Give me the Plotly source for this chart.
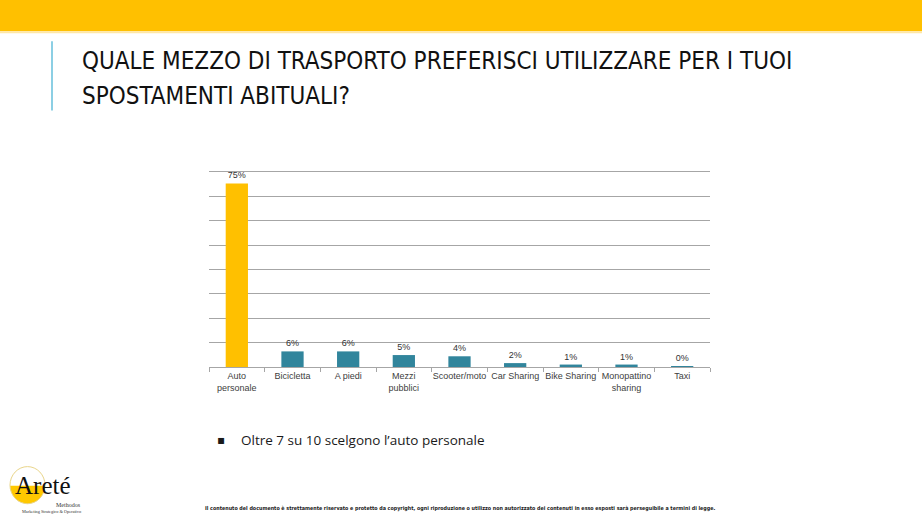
import plotly.graph_objects as go

categories = ["Auto<br>personale", "Bicicletta", "A piedi", "Mezzi<br>pubblici", "Scooter/moto",
              "Car Sharing", "Bike Sharing", "Monopattino<br>sharing", "Taxi"]
values = [75.3, 6.4, 6.4, 4.9, 4.4, 1.6, 1.0, 1.0, 0.1]
labels = ["75%", "6%", "6%", "5%", "4%", "2%", "1%", "1%", "0%"]
bar_colors = ["#FFC000"] + ["#31859C"] * 8

title_line1 = "QUALE MEZZO DI TRASPORTO PREFERISCI UTILIZZARE PER I TUOI"
title_line2 = "SPOSTAMENTI ABITUALI?"
bullet_text = "Oltre 7 su 10 scelgono l\u2019auto personale"
footer_text = ("Il contenuto del documento \u00e8 strettamente riservato e protetto da copyright, ogni riproduzione "
               "o utilizzo non autorizzato dei contenuti in esso esposti sar\u00e0 perseguibile a termini di legge.")

W, H = 922, 526
L, R, T, B = 209, 710, 172.3, 366.7


def px(x):
    return (x - L) / (R - L)


def py(y):
    return (B - y) / (B - T)


fig = go.Figure(go.Bar(
    x=categories, y=values, marker=dict(color=bar_colors, line=dict(width=0)),
    text=labels, textposition="outside", cliponaxis=False,
    textfont=dict(family="Liberation Sans, Arial", size=9, color="#333333"),
    hoverinfo="skip",
))

shapes = [
    dict(type="rect", xref="paper", yref="paper", x0=px(0), x1=px(W), y0=py(32), y1=py(0),
         fillcolor="#FFC000", line=dict(width=0), layer="below"),
    dict(type="rect", xref="paper", yref="paper", x0=px(0), x1=px(W), y0=py(34), y1=py(32),
         fillcolor="#FFE7A6", line=dict(width=0), layer="below"),
    dict(type="line", xref="paper", yref="paper", x0=px(52), x1=px(52), y0=py(42), y1=py(111),
         line=dict(color="#8CCFE4", width=2)),
    # logo
    dict(type="circle", xref="paper", yref="paper", x0=px(10), x1=px(45), y0=py(503), y1=py(466),
         fillcolor="#FFC800", line=dict(width=0)),
    dict(type="rect", xref="paper", yref="paper", x0=px(9), x1=px(46), y0=py(485), y1=py(465),
         fillcolor="white", line=dict(width=0)),
    dict(type="circle", xref="paper", yref="paper", x0=px(10), x1=px(45), y0=py(503), y1=py(466),
         fillcolor="rgba(0,0,0,0)", line=dict(color="#E9D58A", width=1)),
]

title_font = dict(family="Liberation Sans Narrow, DejaVu Sans Condensed, Arial Narrow, sans-serif",
                  size=24, color="#111111")

annotations = [
    dict(text=title_line1, x=px(80), y=py(62), xref="paper", yref="paper", xanchor="left", yanchor="middle",
         showarrow=False, font=title_font),
    dict(text=title_line2, x=px(80), y=py(97), xref="paper", yref="paper", xanchor="left", yanchor="middle",
         showarrow=False, font=title_font),
    dict(text="\u25aa", x=px(221), y=py(439), xref="paper", yref="paper", xanchor="center", yanchor="middle",
         showarrow=False, font=dict(family="DejaVu Sans", size=12, color="#1A1A1A")),
    dict(text=bullet_text, x=px(239), y=py(439), xref="paper", yref="paper", xanchor="left", yanchor="middle",
         showarrow=False, font=dict(family="Open Sans, sans-serif", size=13.5, color="#1A1A1A")),
    dict(text="<b>" + footer_text + "</b>", x=px(460), y=py(508), xref="paper", yref="paper",
         xanchor="center", yanchor="middle", showarrow=False,
         font=dict(family="Liberation Sans Narrow, DejaVu Sans Condensed, sans-serif", size=5.35, color="#1A1A1A")),
    dict(text="Aret\u00e9", x=px(13), y=py(485), xref="paper", yref="paper", xanchor="left", yanchor="middle",
         showarrow=False, font=dict(family="Liberation Serif, DejaVu Serif, serif", size=25, color="#111111")),
    dict(text="Methodos", x=px(83), y=py(504), xref="paper", yref="paper", xanchor="right", yanchor="middle",
         showarrow=False, font=dict(family="Liberation Serif, serif", size=6, color="#333333")),
    dict(text="Marketing Strategico & Operativo", x=px(83), y=py(510.5), xref="paper", yref="paper",
         xanchor="right", yanchor="middle",
         showarrow=False, font=dict(family="Liberation Serif, serif", size=4.3, color="#333333")),
]

fig.update_layout(
    width=W, height=H,
    margin=dict(l=L, r=W - R, t=T, b=H - B, pad=0),
    paper_bgcolor="white", plot_bgcolor="white",
    bargap=0.6, showlegend=False,
    shapes=shapes, annotations=annotations,
    xaxis=dict(type="category", showgrid=False, showline=True, mirror=True, linecolor="#A6A6A6", linewidth=1,
               ticks="outside", tickson="boundaries", ticklen=4, tickcolor="#A6A6A6", tickangle=0,
               tickfont=dict(family="Liberation Sans, Arial", size=9, color="#404040"),
               fixedrange=True),
    yaxis=dict(range=[0, 80], tick0=0, dtick=10, showticklabels=False, showgrid=True, gridcolor="#A6A6A6",
               gridwidth=1, zeroline=False, showline=False, ticks="", fixedrange=True),
)

fig.write_html("out.html", config={"displayModeBar": False},
               post_script="document.body.style.margin='0';document.body.style.overflow='hidden';")
